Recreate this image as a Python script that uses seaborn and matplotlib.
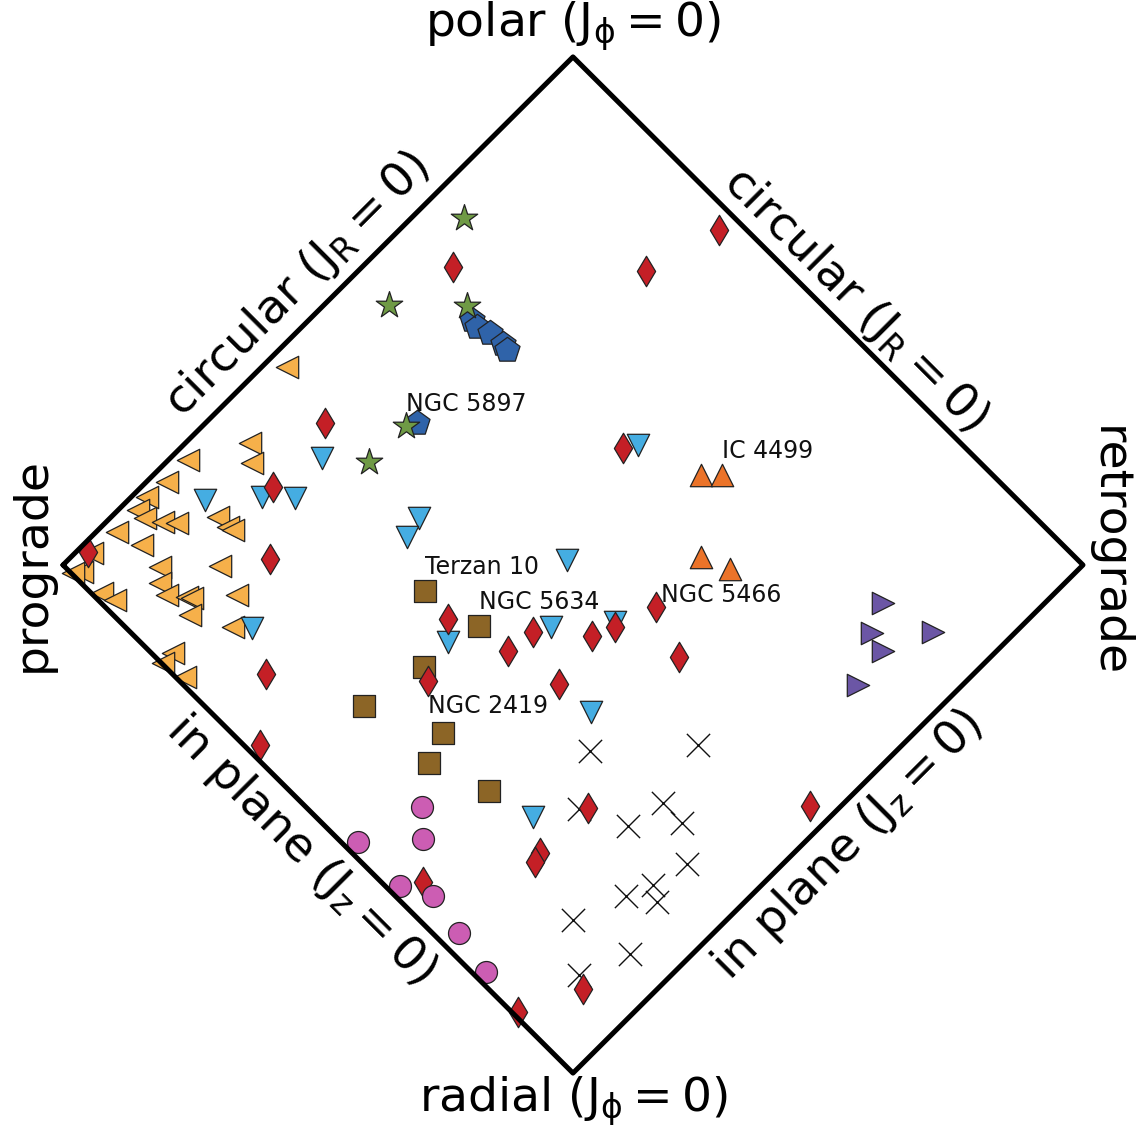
import seaborn as sns
import matplotlib.pyplot as plt

# action diamond coordinates: x = Jphi/Jtot (prograde left), y = (Jz - JR)/Jtot
yel_x = [-0.561, -0.633, -0.629, -0.755, -0.796, -0.835, -0.853, -0.839, -0.804, -0.776,
         -0.894, -0.845, -0.696, -0.676, -0.667, -0.943, -0.963, -0.980, -0.810, -0.692,
         -0.810, -0.796, -0.757, -0.747, -0.751, -0.659, -0.667, -0.924, -0.898, -0.784,
         -0.804, -0.761]
yel_y = [0.390, 0.240, 0.201, 0.207, 0.163, 0.134, 0.108, 0.093, 0.085, 0.083,
         0.065, 0.039, 0.094, 0.075, 0.069, 0.024, -0.014, -0.016, -0.004, -0.002,
         -0.035, -0.059, -0.063, -0.065, -0.098, -0.059, -0.122, -0.055, -0.069, -0.173,
         -0.193, -0.220]

blu_x = [-0.722, -0.610, -0.545, -0.492, -0.629, -0.302, -0.325, -0.012, 0.127, -0.043,
         -0.245, 0.082, 0.035, -0.078]
blu_y = [0.128, 0.134, 0.132, 0.211, -0.124, 0.093, 0.055, 0.010, 0.236, -0.122,
         -0.152, -0.112, -0.289, -0.496]

red_x = [-0.951, -0.486, -0.588, -0.594, -0.602, -0.614, -0.235, 0.286, 0.143, 0.098,
         -0.245, -0.127, -0.078, 0.037, 0.082, 0.163, 0.208, -0.027, -0.284, -0.294,
         -0.108, -0.065, -0.075, 0.029, 0.020, 0.465]
red_y = [0.026, 0.280, 0.154, 0.012, -0.215, -0.354, 0.587, 0.659, 0.579, 0.230,
         -0.106, -0.169, -0.132, -0.140, -0.122, -0.083, -0.181, -0.234, -0.228, -0.624,
         -0.880, -0.567, -0.585, -0.478, -0.835, -0.474]

star_x = [-0.214, -0.361, -0.208, -0.327, -0.400]
star_y = [0.683, 0.512, 0.510, 0.274, 0.203]

pent_x = [-0.198, -0.188, -0.163, -0.137, -0.129, -0.306]
pent_y = [0.482, 0.469, 0.457, 0.435, 0.423, 0.280]

ora_x = [0.251, 0.292, 0.251, 0.308]
ora_y = [0.177, 0.177, 0.016, -0.008]

pur_x = [0.608, 0.586, 0.706, 0.608, 0.559]
pur_y = [-0.075, -0.134, -0.132, -0.169, -0.236]

brn_x = [-0.290, -0.184, -0.292, -0.410, -0.255, -0.282, -0.165]
brn_y = [-0.051, -0.120, -0.201, -0.278, -0.331, -0.390, -0.445]

pnk_x = [-0.296, -0.294, -0.422, -0.339, -0.275, -0.224, -0.171]
pnk_y = [-0.476, -0.539, -0.545, -0.632, -0.652, -0.724, -0.801]

crs_x = [0.033, 0.245, 0.012, 0.176, 0.108, 0.214, 0.224, 0.157, 0.104, 0.165,
         0.000, 0.112, 0.012]
crs_y = [-0.366, -0.354, -0.480, -0.469, -0.514, -0.508, -0.589, -0.630, -0.652, -0.663,
         -0.699, -0.766, -0.807]

names = ["NGC 5897", "IC 4499", "Terzan 10", "NGC 5634", "NGC 5466", "NGC 2419"]
name_x = [-0.327, 0.292, -0.290, -0.184, 0.173, -0.284]
name_y = [0.317, 0.224, -0.004, -0.073, -0.059, -0.278]

sns.set_style("white")
plt.rcParams["font.family"] = ["DejaVu Sans"]
plt.rcParams["mathtext.default"] = "regular"
plt.rcParams["text.color"] = "black"

fig = plt.figure(figsize=(11.4, 11.3), dpi=100)
ax = fig.add_axes([0, 0, 1, 1])

# diamond outline
sns.lineplot(x=[-1, 0, 1, 0, -1], y=[0, 1, 0, -1, 0], sort=False, estimator=None,
             color="black", linewidth=3.6, ax=ax)

sns.scatterplot(x=crs_x, y=crs_y, marker="x", color="#111111", s=280, linewidth=1.0,
                ax=ax, legend=False)

layers = [
    (yel_x, yel_y, "<", "#F6B04A", 260),
    (blu_x, blu_y, "v", "#45ADE2", 260),
    (brn_x, brn_y, "s", "#8C6526", 250),
    (red_x, red_y, "d", "#C41F26", 240),
    (pnk_x, pnk_y, "o", "#CC5DB3", 250),
    (pent_x, pent_y, "p", "#2F63A9", 360),
    (star_x, star_y, "*", "#6F9A45", 400),
    (ora_x, ora_y, "^", "#EB7329", 260),
    (pur_x, pur_y, ">", "#6B56A5", 260),
]
for xs, ys, m, c, s in layers:
    sns.scatterplot(x=xs, y=ys, marker=m, color=c, s=s, edgecolor="#222222",
                    linewidth=0.9, ax=ax, legend=False)

for t, x, y in zip(names, name_x, name_y):
    ax.text(x, y, t, fontsize=17, ha="left", va="center", color="#111111")

big = 34
ax.text(0, 1.060, r"polar ($J_\phi = 0$)", fontsize=big, ha="center", va="center")
ax.text(0, -1.056, r"radial ($J_\phi = 0$)", fontsize=big, ha="center", va="center")
ax.text(-1.061, 0.0, "prograde", fontsize=big, rotation=90, ha="center", va="center")
ax.text(1.049, 0.026, "retrograde", fontsize=big, rotation=-90, ha="center", va="center")
ax.text(-0.541, 0.551, r"circular ($J_R = 0$)", fontsize=big, rotation=45,
        ha="center", va="center")
ax.text(0.553, 0.522, r"circular ($J_R = 0$)", fontsize=big, rotation=-45,
        ha="center", va="center")
ax.text(-0.535, -0.561, r"in plane ($J_z = 0$)", fontsize=big, rotation=-45,
        ha="center", va="center")
ax.text(0.539, -0.551, r"in plane ($J_z = 0$)", fontsize=big, rotation=45,
        ha="center", va="center")

ax.set_xlim(-1.1235, 1.1118)
ax.set_ylim(-1.112, 1.112)
ax.axis("off")

fig.savefig("out.png", dpi=100)
